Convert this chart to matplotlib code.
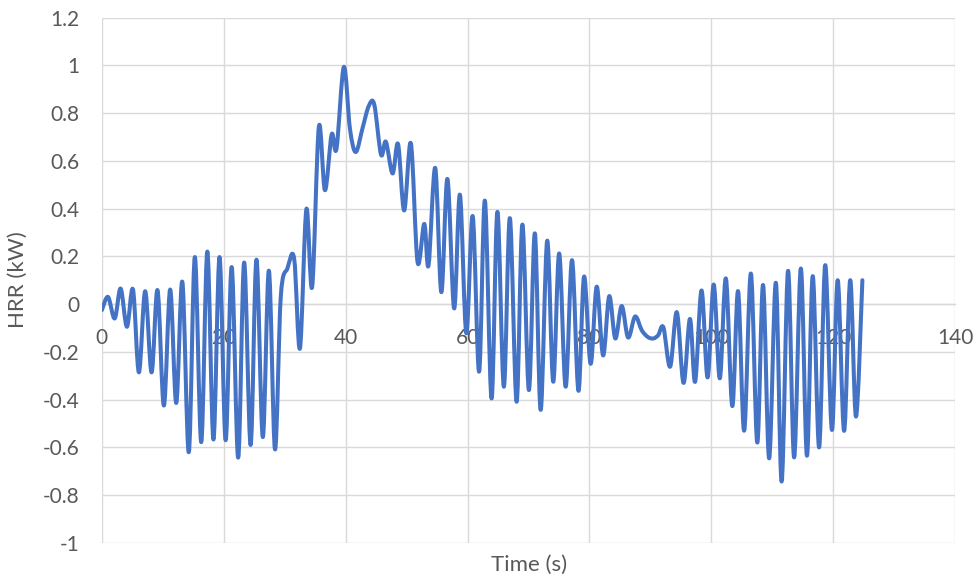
import numpy as np
import matplotlib
matplotlib.use("Agg")
import matplotlib.pyplot as plt
from matplotlib.path import Path
from matplotlib.patches import PathPatch

plt.rcParams['font.family'] = ['Lato', 'DejaVu Sans']

# ---------- Data ----------
time_s = [
    0.0, 1.0, 2.1, 3.07, 4.1, 5.1, 6.07, 7.1, 8.15, 9.13,
    10.17, 11.2, 12.2, 13.2, 14.26, 15.25, 16.3, 17.3, 18.3, 19.3,
    20.3, 21.3, 22.36, 23.34, 24.4, 25.36, 26.4, 27.4, 28.4, 29.35,
    30.45, 31.55, 32.5, 33.55, 34.5, 35.6, 36.6, 37.7, 38.5, 39.7,
    40.7, 41.66, 42.8, 43.8, 44.7, 45.8, 46.6, 47.7, 48.6, 49.6,
    50.7, 51.8, 52.9, 53.6, 54.7, 55.7, 56.7, 57.8, 58.75, 59.8,
    60.85, 61.9, 62.85, 63.94, 64.9, 65.96, 66.95, 68.05, 69.0, 70.07,
    71.05, 72.0, 73.07, 74.06, 75.04, 76.1, 77.15, 78.2, 79.12, 80.2,
    81.2, 82.25, 83.25, 84.25, 85.3, 86.35, 87.5, 88.6, 89.6, 90.5,
    91.3, 92.15, 93.25, 94.35, 95.45, 96.5, 97.35, 98.4, 99.4, 100.4,
    101.4, 102.4, 103.45, 104.4, 105.4, 106.5, 107.55, 108.5, 109.5, 110.6,
    111.55, 112.6, 113.6, 114.7, 115.7, 116.65, 117.7, 118.7, 119.8, 120.75,
    121.8, 122.8, 123.75, 124.8,
]
hrr_kw = [
    -0.025, 0.03, -0.06, 0.065, -0.095, 0.061, -0.286, 0.054, -0.286, 0.058,
    -0.425, 0.061, -0.414, 0.093, -0.62, 0.197, -0.578, 0.22, -0.567, 0.197,
    -0.57, 0.155, -0.643, 0.174, -0.59, 0.186, -0.557, 0.14, -0.608, 0.03,
    0.15, 0.19, -0.185, 0.397, 0.072, 0.742, 0.477, 0.71, 0.651, 0.993,
    0.735, 0.637, 0.74, 0.83, 0.835, 0.626, 0.68, 0.547, 0.67, 0.392,
    0.673, 0.176, 0.336, 0.162, 0.57, 0.05, 0.524, -0.018, 0.458, -0.122,
    0.368, -0.283, 0.433, -0.395, 0.386, -0.346, 0.36, -0.409, 0.333, -0.36,
    0.296, -0.443, 0.265, -0.325, 0.212, -0.346, 0.184, -0.363, 0.115, -0.25,
    0.073, -0.215, 0.033, -0.144, -0.008, -0.14, -0.052, -0.11, -0.138, -0.144,
    -0.13, -0.098, -0.262, -0.034, -0.33, -0.062, -0.325, 0.057, -0.307, 0.082,
    -0.311, 0.107, -0.427, 0.054, -0.53, 0.128, -0.58, 0.08, -0.646, 0.089,
    -0.743, 0.139, -0.642, 0.149, -0.635, 0.117, -0.6, 0.163, -0.527, 0.1,
    -0.531, 0.1, -0.471, 0.1,
]

x_ticks = [0, 20, 40, 60, 80, 100, 120, 140]
y_ticks = [1.2, 1.0, 0.8, 0.6, 0.4, 0.2, 0.0, -0.2, -0.4, -0.6, -0.8, -1.0]
y_tick_labels = ["1.2", "1", "0.8", "0.6", "0.4", "0.2", "0",
                 "-0.2", "-0.4", "-0.6", "-0.8", "-1"]

LINE_COLOR = "#4472C4"
TEXT_COLOR = "#595959"
GRID_COLOR = "#D9D9D9"


def smooth_path(xs, ys):
    # Excel-style smoothed line: cubic Bezier through every point
    pts = np.column_stack([xs, ys])
    n = len(pts)
    verts = [pts[0]]
    codes = [Path.MOVETO]
    for i in range(n - 1):
        p0 = pts[i - 1] if i > 0 else pts[i]
        p1 = pts[i]
        p2 = pts[i + 1]
        p3 = pts[i + 2] if i + 2 < n else pts[i + 1]
        verts += [p1 + (p2 - p0) / 6.0, p2 - (p3 - p1) / 6.0, p2]
        codes += [Path.CURVE4] * 3
    return Path(verts, codes)


fig = plt.figure(figsize=(9.8, 5.85), dpi=100)
ax = fig.add_axes([0.104, 0.072, 0.8705, 0.898])

ax.add_patch(PathPatch(smooth_path(time_s, hrr_kw), fill=False,
                       edgecolor=LINE_COLOR, lw=2.9,
                       capstyle="round", joinstyle="round", zorder=3))

ax.set_xlim(0, 140)
ax.set_ylim(-1, 1.2)
ax.set_xticks(x_ticks)
ax.set_xticklabels([str(t) for t in x_ticks])
ax.set_yticks(y_ticks)
ax.set_yticklabels(y_tick_labels)

ax.grid(True, color=GRID_COLOR, lw=1.0)
ax.set_axisbelow(True)
for side in ["top", "right", "left"]:
    ax.spines[side].set_visible(False)
# horizontal axis crosses at y = 0, labels sit next to it
ax.spines["bottom"].set_position(("data", 0))
ax.spines["bottom"].set_color(GRID_COLOR)
ax.spines["bottom"].set_linewidth(1.0)

ax.tick_params(axis="both", length=0, labelsize=15, labelcolor=TEXT_COLOR)
ax.tick_params(axis="x", pad=17)
ax.tick_params(axis="y", pad=16)

fig.text(529 / 980, 1 - 565 / 585, "Time (s)", fontsize=16,
         color=TEXT_COLOR, ha="center", va="center")
fig.text(18 / 980, 1 - 280 / 585, "HRR (kW)", fontsize=16,
         color=TEXT_COLOR, ha="center", va="center", rotation=90)

fig.savefig("out.png", dpi=100)
